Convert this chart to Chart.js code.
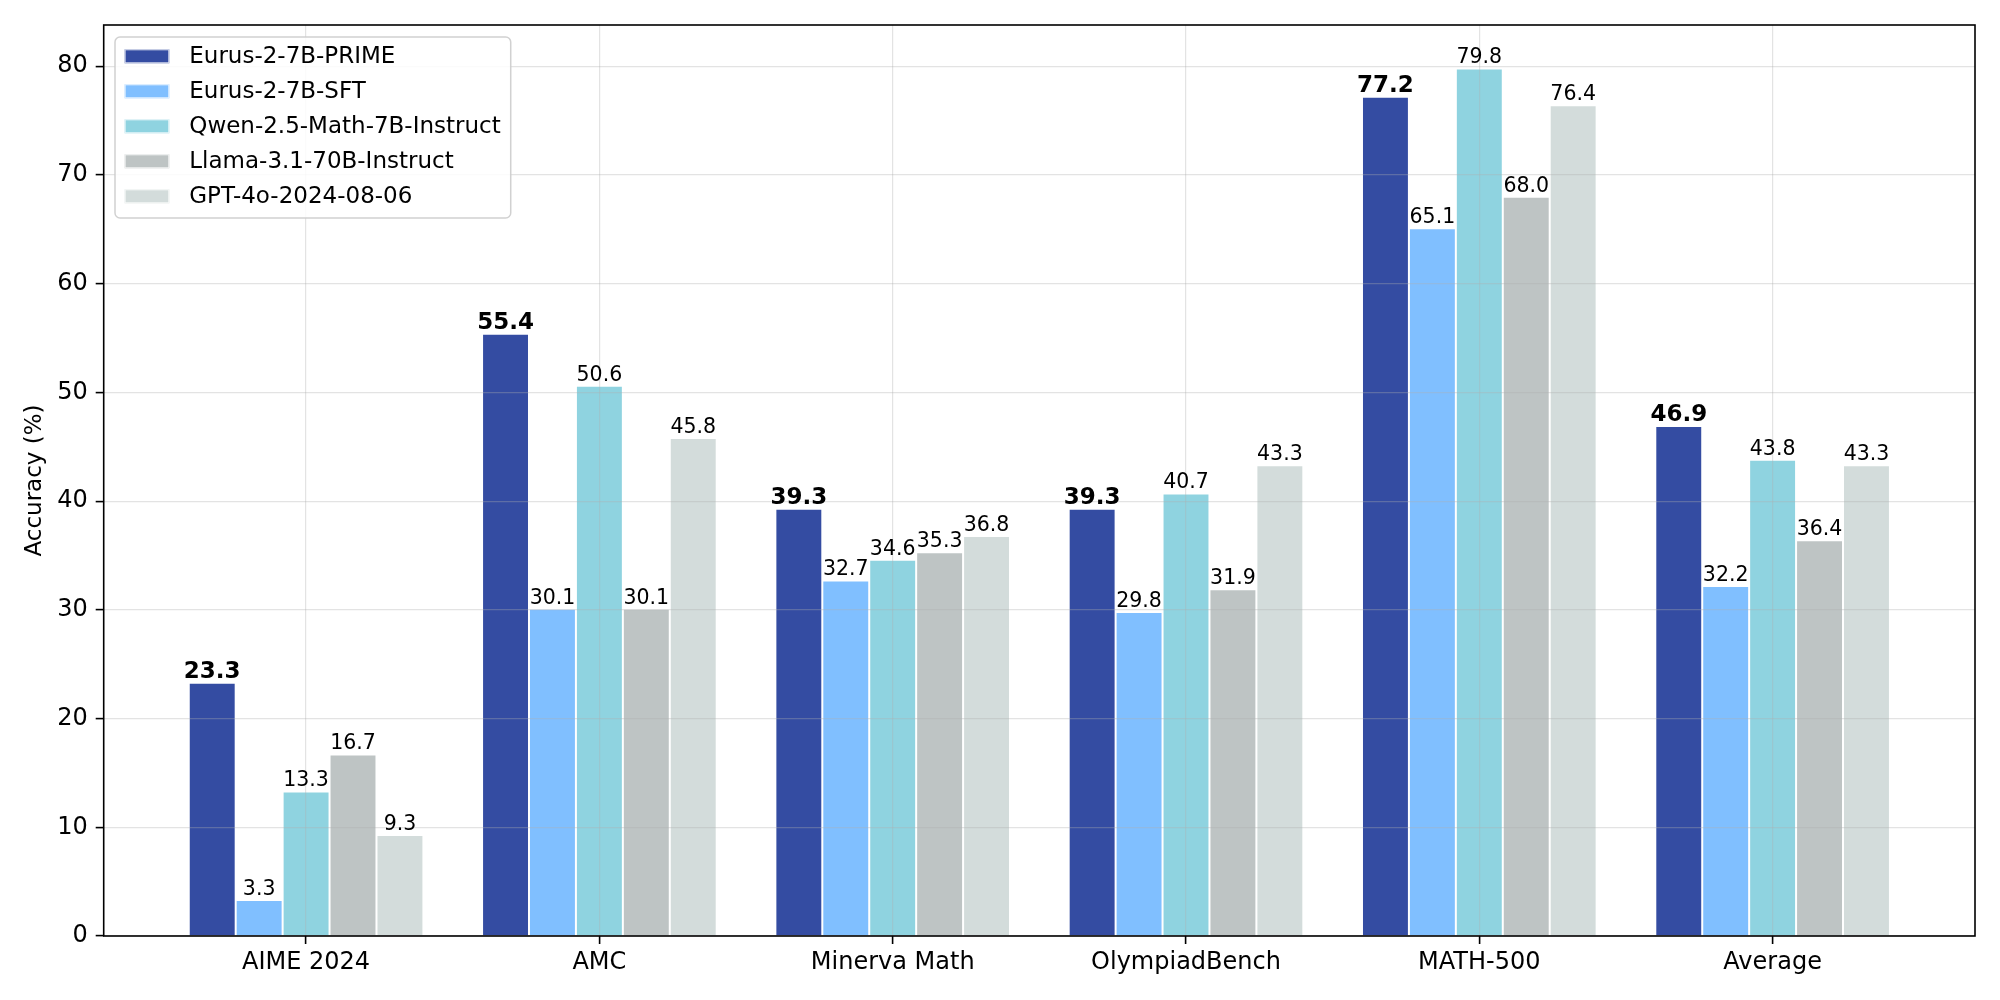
<!DOCTYPE html>
<html><head><meta charset="utf-8">
<script src="https://cdn.jsdelivr.net/npm/chart.js@4.4.1/dist/chart.umd.min.js"></script>
<style>html,body{margin:0;padding:0;background:#fff;} #wrap{width:2000px;height:1000px;}</style>
</head><body><div id="wrap"><canvas id="c" width="2000" height="1000"></canvas></div>
<script>
const categories = ['AIME 2024', 'AMC', 'Minerva Math', 'OlympiadBench', 'MATH-500', 'Average'];
const seriesNames = ['Eurus-2-7B-PRIME', 'Eurus-2-7B-SFT', 'Qwen-2.5-Math-7B-Instruct', 'Llama-3.1-70B-Instruct', 'GPT-4o-2024-08-06'];
const primeValues = [23.3, 55.4, 39.3, 39.3, 77.2, 46.9];
const sftValues   = [3.3, 30.1, 32.7, 29.8, 65.1, 32.2];
const qwenValues  = [13.3, 50.6, 34.6, 40.7, 79.8, 43.8];
const llamaValues = [16.7, 30.1, 35.3, 31.9, 68.0, 36.4];
const gptValues   = [9.3, 45.8, 36.8, 43.3, 76.4, 43.3];
const yTicks = [0, 10, 20, 30, 40, 50, 60, 70, 80];
const seriesColors = ['#344ca2', '#80bfff', '#8fd3e0', '#bec4c4', '#d3dcdb'];

const FONT = '"DejaVu Sans", sans-serif';
const seriesValues = [primeValues, sftValues, qwenValues, llamaValues, gptValues];

const overlay = {
  id: 'overlay',
  afterDraw(chart) {
    const ctx = chart.ctx;
    const a = chart.chartArea;
    ctx.save();
    // value labels
    chart.data.datasets.forEach((ds, di) => {
      const meta = chart.getDatasetMeta(di);
      meta.data.forEach((bar, i) => {
        const v = ds.data[i].y;
        ctx.font = (di === 0 ? 'bold 23px ' : '20.5px ') + FONT;
        ctx.textAlign = 'center';
        ctx.textBaseline = 'alphabetic';
        ctx.fillStyle = '#000';
        ctx.fillText(v.toFixed(1), bar.x, bar.y - 5);
      });
    });
    // frame
    ctx.strokeStyle = '#000';
    ctx.lineWidth = 1.6;
    ctx.strokeRect(a.left, a.top, a.right - a.left, a.bottom - a.top);
    // legend
    ctx.font = '23px ' + FONT;
    let maxW = 0;
    chart.data.datasets.forEach(ds => { maxW = Math.max(maxW, ctx.measureText(ds.label).width); });
    const bx = a.left + 11.3, by = a.top + 12;
    const bw = 74.3 + maxW + 10, bh = 181;
    ctx.beginPath();
    ctx.roundRect(bx, by, bw, bh, 5);
    ctx.fillStyle = 'rgba(255,255,255,0.85)';
    ctx.fill();
    ctx.strokeStyle = 'rgba(204,204,204,0.9)';
    ctx.lineWidth = 1.5;
    ctx.stroke();
    chart.data.datasets.forEach((ds, di) => {
      const cy = by + 19.3 + di * 35;
      ctx.fillStyle = ds.backgroundColor;
      ctx.fillRect(bx + 9.6, cy - 7, 44.7, 14);
      ctx.strokeStyle = 'rgba(255,255,255,0.85)';
      ctx.lineWidth = 1;
      ctx.strokeRect(bx + 10.1, cy - 6.5, 43.7, 13);
      ctx.fillStyle = '#000';
      ctx.textAlign = 'left';
      ctx.textBaseline = 'middle';
      ctx.fillText(ds.label, bx + 74.3, cy + 1);
    });
    ctx.restore();
  }
};

const gridCommon = {
  color: 'rgba(176,176,176,0.35)',
  lineWidth: 1.2,
  z: 1,
  drawTicks: true,
  tickColor: '#000',
  tickLength: 8,
  tickWidth: 1.6,
  offset: false
};

new Chart(document.getElementById('c'), {
  type: 'bar',
  data: {
    datasets: seriesNames.map((name, s) => ({
      label: name,
      data: seriesValues[s].map((v, i) => ({ x: i, y: v })),
      backgroundColor: seriesColors[s],
      borderColor: 'rgba(255,255,255,0.85)',
      borderWidth: 1,
      categoryPercentage: 0.8,
      barPercentage: 1.0
    }))
  },
  options: {
    responsive: false,
    devicePixelRatio: 1,
    animation: false,
    layout: { padding: { top: 25, right: 25, left: 0, bottom: 0 } },
    plugins: { legend: { display: false }, tooltip: { enabled: false } },
    scales: {
      x: {
        type: 'linear',
        min: -0.69,
        max: 5.69,
        offset: false,
        grid: gridCommon,
        border: { display: false },
        ticks: {
          font: { family: FONT, size: 24 },
          color: '#000',
          padding: 4,
          autoSkip: false,
          maxRotation: 0,
          callback: (v) => categories[v]
        },
        afterBuildTicks: (s) => { s.ticks = categories.map((c, i) => ({ value: i })); },
        afterFit: (s) => { s.height = 64; }
      },
      y: {
        min: 0,
        max: 83.79,
        grid: gridCommon,
        border: { display: false },
        ticks: {
          font: { family: FONT, size: 24 },
          color: '#000',
          padding: 8
        },
        title: {
          display: true,
          text: 'Accuracy (%)',
          font: { family: FONT, size: 23 },
          color: '#000',
          padding: { top: 21, bottom: 0 }
        },
        afterBuildTicks: (s) => { s.ticks = yTicks.map(v => ({ value: v })); },
        afterFit: (s) => { s.width = 103.7; }
      }
    }
  },
  plugins: [overlay]
});
</script>
</body></html>
